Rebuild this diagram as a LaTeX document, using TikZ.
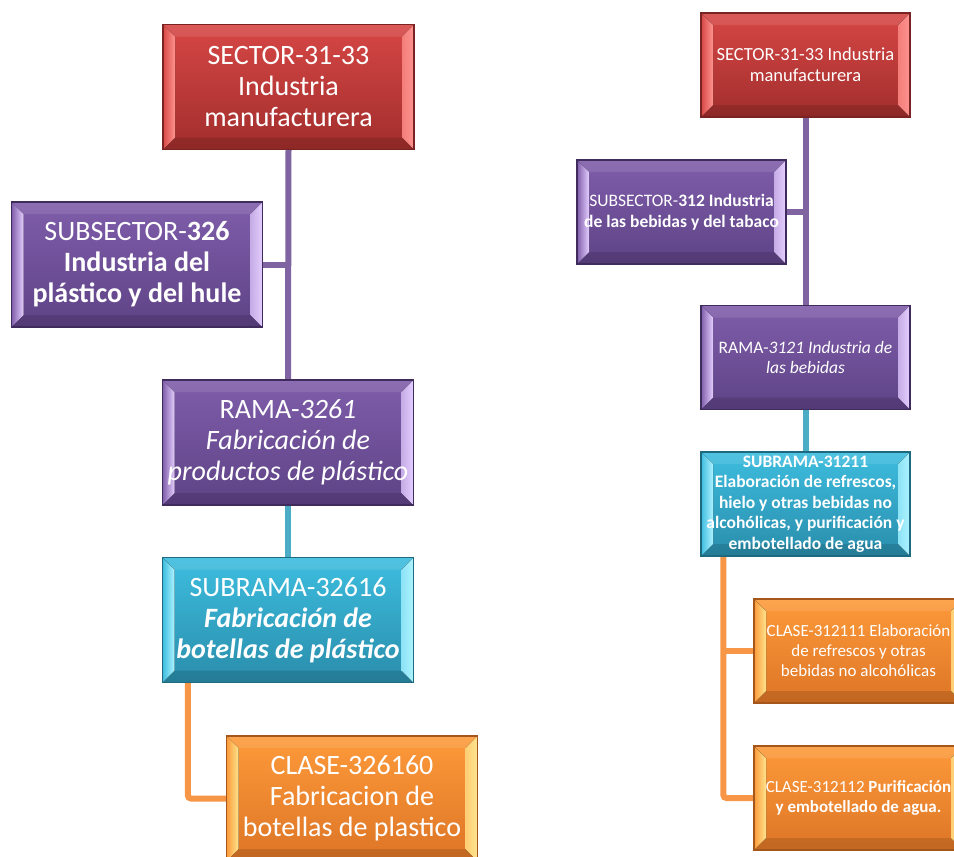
\documentclass[tikz,border=0pt]{standalone}
\usepackage{fontspec}
\setmainfont{Carlito}
\usetikzlibrary{calc,backgrounds}
\definecolor{redT}{HTML}{D64745}
\definecolor{redD}{HTML}{A12E2D}
\definecolor{redL}{HTML}{FF9490}
\definecolor{redE}{HTML}{7A2322}
\definecolor{purT}{HTML}{7F5DAA}
\definecolor{purD}{HTML}{5E4386}
\definecolor{purL}{HTML}{E4CEFF}
\definecolor{purE}{HTML}{3F2C5C}
\definecolor{tealT}{HTML}{3DBDDF}
\definecolor{tealD}{HTML}{2A8DAB}
\definecolor{tealL}{HTML}{AEF3FF}
\definecolor{tealE}{HTML}{1D6A80}
\definecolor{orT}{HTML}{FD9A3A}
\definecolor{orD}{HTML}{DD7526}
\definecolor{orL}{HTML}{FFE48E}
\definecolor{orE}{HTML}{A5561A}
\definecolor{linePur}{HTML}{8064A2}
\definecolor{lineTeal}{HTML}{4BACC6}
\definecolor{lineOr}{HTML}{F79646}
\newcommand{\bevelpp}[3]{%
  \coordinate (bvNW) at (path picture bounding box.north west);
  \coordinate (bvSE) at (path picture bounding box.south east);
  \fill[white,opacity=0.10] let \p1=(bvNW),\p2=(bvSE) in
    (\x1,\y1) -- (\x2,\y1) -- (\x2-12pt,\y1-12pt) -- (\x1+12pt,\y1-12pt) -- cycle;
  \fill[black,opacity=0.12] let \p1=(bvNW),\p2=(bvSE) in
    (\x1,\y2) -- (\x2,\y2) -- (\x2-12pt,\y2+12pt) -- (\x1+12pt,\y2+12pt) -- cycle;
  \fill[left color=#1, right color=#3] let \p1=(bvNW),\p2=(bvSE) in
    (\x1,\y1) -- (\x1+12pt,\y1-12pt) -- (\x1+12pt,\y2+12pt) -- (\x1,\y2) -- cycle;
  \fill[left color=#3!70!#1, right color=#3] let \p1=(bvNW),\p2=(bvSE) in
    (\x2,\y1) -- (\x2-12pt,\y1-12pt) -- (\x2-12pt,\y2+12pt) -- (\x2,\y2) -- cycle;
}
\tikzset{
  bx/.style n args={4}{rectangle, inner sep=0pt, align=center, text=white,
    top color=#1, bottom color=#2, draw=#4, line width=1.2pt,
    path picture={\bevelpp{#1}{#2}{#3}}},
  redbox/.style={bx={redT}{redD}{redL}{redE}},
  purbox/.style={bx={purT}{purD}{purL}{purE}},
  tealbox/.style={bx={tealT}{tealD}{tealL}{tealE}},
  orbox/.style={bx={orT}{orD}{orL}{orE}},
  big/.style={minimum width=251pt, minimum height=125pt, font=\fontsize{28}{31}\selectfont},
  small/.style={minimum width=209pt, minimum height=104pt, font=\fontsize{17.5}{20.5}\selectfont},
  conn/.style={line width=6pt, draw=#1},
}
\begin{document}
\begin{tikzpicture}[x=1pt,y=-1pt]
\clip (0,0) rectangle (954,857);
% left tree
\node[redbox, big] (ls) at (288.5,87) {SECTOR-31-33\\Industria\\manufacturera};
\node[purbox, big] (lsub) at (137,264.5) {SUBSECTOR-\textbf{326}\\\textbf{Industria del}\\\textbf{plástico y del hule}};
\node[purbox, big] (lr) at (288,442.5) {RAMA-\textit{3261}\\\textit{Fabricación de}\\\textit{productos de plástico}};
\node[tealbox, big] (lsr) at (288,620) {SUBRAMA-32616\\\textbf{\textit{Fabricación de}}\\\textbf{\textit{botellas de plástico}}};
\node[orbox, big] (lc) at (352,798.5) {CLASE-326160\\Fabricacion de\\botellas de plastico};
% right tree
\node[redbox, small, font=\fontsize{18.5}{21}\selectfont] (rs) at (805.5,65) {SECTOR-31-33 Industria\\manufacturera};
\node[purbox, small] (rsub) at (681.5,212) {SUBSECTOR-\textbf{312 Industria}\\\textbf{de las bebidas y del tabaco}};
\node[purbox, small] (rr) at (805.5,357.5) {RAMA-\textit{3121 Industria de}\\\textit{las bebidas}};
\node[tealbox, small] (rsr) at (805.5,504) {\textbf{SUBRAMA-31211}\\\textbf{Elaboración de refrescos,}\\\textbf{hielo y otras bebidas no}\\\textbf{alcohólicas, y purificación y}\\\textbf{embotellado de agua}};
\node[orbox, small, font=\fontsize{17}{20}\selectfont] (rc1) at (858.5,651) {CLASE-312111 Elaboración\\de refrescos y otras\\bebidas no alcohólicas};
\node[orbox, small, font=\fontsize{17}{20}\selectfont] (rc2) at (858.5,798) {CLASE-312112 \textbf{Purificación}\\\textbf{y embotellado de agua.}};
% connectors
\begin{scope}[on background layer]
\draw[conn=linePur] (ls.south) -- (lr.north);
\draw[conn=linePur] (lsub.east) -- (lsub.east -| ls.south);
\draw[conn=lineTeal] (lr.south) -- (lsr.north);
\draw[conn=lineOr, rounded corners=3pt] ([xshift=26pt]lsr.south west) |- (lc.west);
\draw[conn=linePur] (rs.south) -- (rr.north);
\draw[conn=linePur] (rsub.east) -- (rsub.east -| rs.south);
\draw[conn=lineTeal] (rr.south) -- (rsr.north);
\draw[conn=lineOr, rounded corners=3pt] ([xshift=23pt]rsr.south west) |- (rc2.west);
\draw[conn=lineOr] ([xshift=23pt]rsr.south west |- rc1.west) -- (rc1.west);
\end{scope}
\end{tikzpicture}
\end{document}
